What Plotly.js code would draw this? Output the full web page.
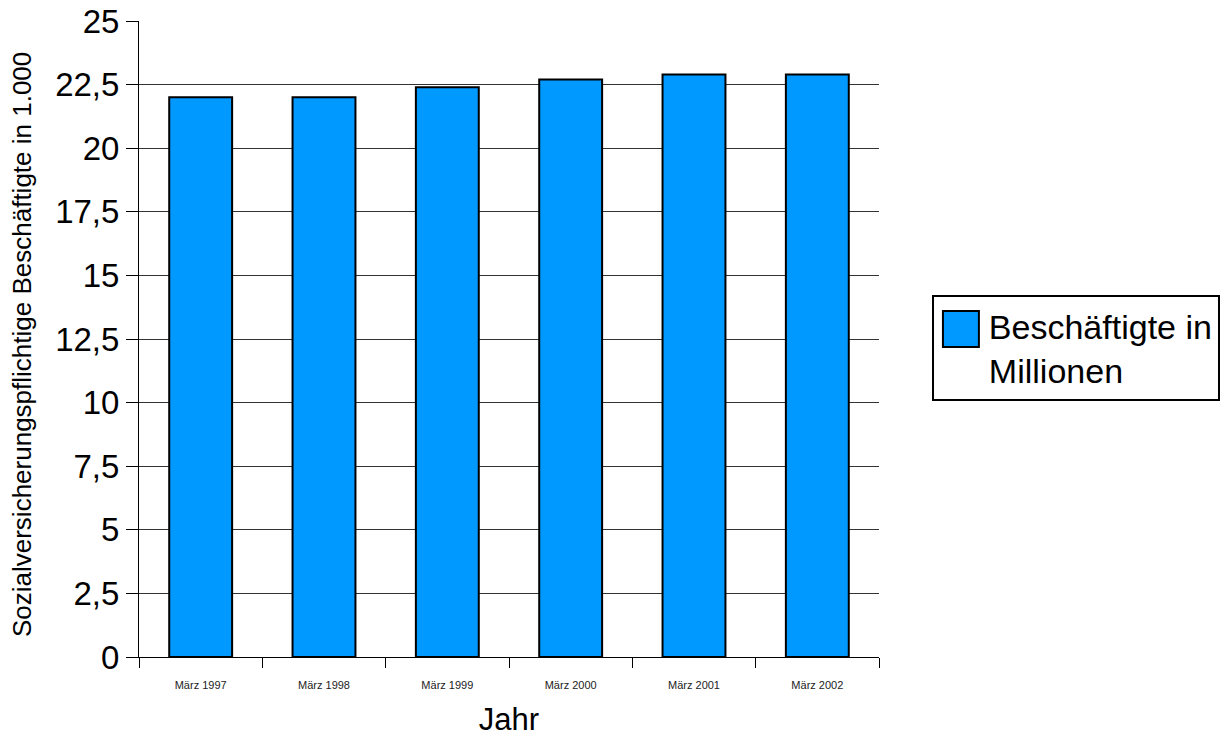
<!DOCTYPE html>
<html>
<head>
<meta charset="utf-8">
<script src="https://cdn.plot.ly/plotly-3.0.1.min.js"></script>
<style>html,body{margin:0;padding:0;background:#fff;}#chart{width:1231px;height:738px;}</style>
</head>
<body>
<div id="chart"></div>
<script>
const categories = ["März 1997", "März 1998", "März 1999", "März 2000", "März 2001", "März 2002"];
const employed = [22.0, 22.0, 22.4, 22.7, 22.9, 22.9];
const seriesName = "Beschäftigte in<br>Millionen";
const yTitle = "Sozialversicherungspflichtige Beschäftigte in 1.000";
const xTitle = "Jahr";

const FONT = "Liberation Sans, Arial, sans-serif";
const BAR_COLOR = "#0099ff";

const traces = [
  {
    type: "bar",
    x: categories,
    y: employed,
    name: seriesName,
    showlegend: false,
    marker: { color: BAR_COLOR, line: { color: "#000", width: 2 } }
  },
  {
    // legend entry only (its large swatch is drawn as a shape behind it)
    type: "scatter",
    mode: "markers",
    x: [null],
    y: [null],
    name: seriesName,
    showlegend: true,
    hoverinfo: "skip",
    marker: { symbol: "square", size: 1, color: "rgba(0,0,0,0)", line: { width: 0, color: "rgba(0,0,0,0)" } }
  }
];

const layout = {
  width: 1231,
  height: 738,
  margin: { l: 139, r: 351, t: 21, b: 81 },
  paper_bgcolor: "#fff",
  plot_bgcolor: "#fff",
  separators: ",.",
  font: { family: FONT, color: "#000" },
  bargap: 0.49,
  showlegend: true,
  legend: {
    x: 1.07, xanchor: "left",
    y: 0.569, yanchor: "top",
    bgcolor: "rgba(0,0,0,0)",
    bordercolor: "#000",
    borderwidth: 2,
    itemwidth: 45,
    font: { family: FONT, size: 34, color: "#000" }
  },
  shapes: [
    {
      type: "rect", xref: "paper", yref: "paper",
      x0: 1.0864, x1: 1.1350, y0: 0.4874, y1: 0.5440,
      fillcolor: BAR_COLOR, line: { color: "#000", width: 2 }, layer: "above"
    }
  ],
  annotations: [
    {
      text: yTitle, xref: "paper", yref: "paper",
      x: -0.158, y: 0.4906, xanchor: "center", yanchor: "middle",
      textangle: -90, showarrow: false,
      font: { family: FONT, size: 26, color: "#000" }
    }
  ],
  xaxis: {
    type: "category",
    showline: true, linecolor: "#000", linewidth: 1,
    ticks: "outside", tickson: "boundaries", ticklen: 10, tickcolor: "#000",
    ticklabelstandoff: 18,
    tickfont: { family: FONT, size: 11, color: "#222" },
    showgrid: false, zeroline: false,
    title: { text: xTitle, font: { family: FONT, size: 31, color: "#000" }, standoff: 18 }
  },
  yaxis: {
    range: [0, 25], dtick: 2.5, tick0: 0,
    showline: true, linecolor: "#000", linewidth: 1,
    ticks: "outside", ticklen: 12, tickcolor: "#000",
    tickfont: { family: FONT, size: 33, color: "#000" },
    showgrid: true, gridcolor: "#333", gridwidth: 1,
    zeroline: false
  }
};

Plotly.newPlot("chart", traces, layout, { displayModeBar: false, staticPlot: true });
</script>
</body>
</html>
